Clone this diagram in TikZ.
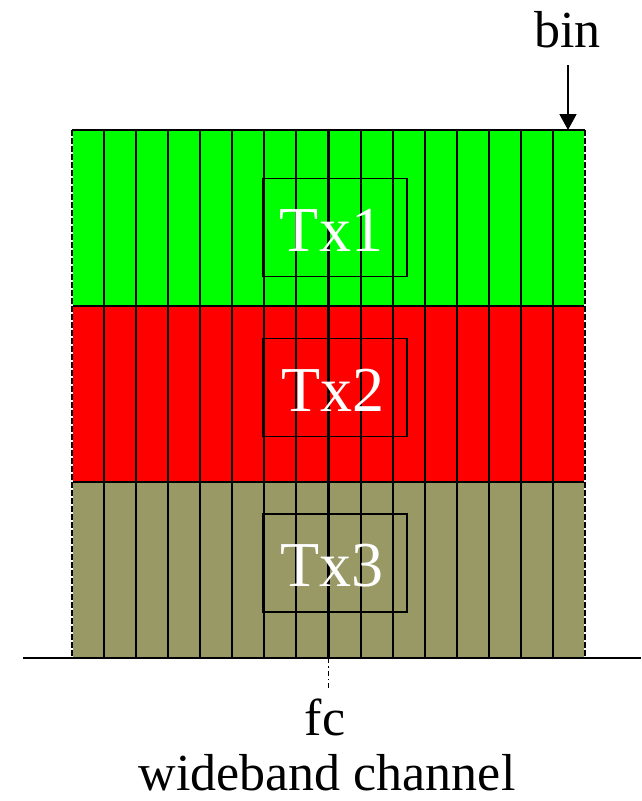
\documentclass[tikz,border=0pt]{standalone}
\usepackage{fontspec}
\setmainfont{Liberation Serif}
\usetikzlibrary{arrows.meta}
\definecolor{bandgreen}{RGB}{0,255,0}
\definecolor{bandred}{RGB}{255,0,0}
\definecolor{bandolive}{RGB}{153,153,102}
\tikzset{
  gridline/.style={line width=2.1pt, black},
  edgeline/.style={line width=1.8pt, black, dash pattern=on 6pt off 2pt},
  txbox/.style={draw=black, line width=1.9pt, minimum width=144pt, minimum height=98pt, inner sep=0pt},
  txlabel/.style={text=white, font=\fontsize{64}{64}\selectfont, anchor=base, inner sep=0pt},
  lbl/.style={font=\fontsize{52}{52}\selectfont, anchor=base, inner sep=0pt},
}
\begin{document}
\begin{tikzpicture}[x=1pt,y=-1pt]
\useasboundingbox (0,0) rectangle (641,801);
% bands
\fill[bandgreen] (72,130) rectangle (585,306);
\fill[bandred] (72,306) rectangle (585,482);
\fill[bandolive] (72,482) rectangle (585,658);
% vertical bin lines
\foreach \i in {1,...,15} {
  \draw[gridline] ({72+\i*32.0625},130) -- ({72+\i*32.0625},658);
}
% horizontal lines
\draw[gridline] (72,130) -- (585,130);
\draw[gridline] (72,306) -- (585,306);
\draw[gridline] (72,482) -- (585,482);
% side dashed edges
\draw[white, line width=1.8pt] (72,130) -- (72,658);
\draw[white, line width=1.8pt] (585,130) -- (585,658);
\draw[edgeline] (72,130) -- (72,658);
\draw[edgeline] (585,130) -- (585,658);
% axis
\coordinate (axl) at (23,658);
\coordinate (axr) at (641,658);
\draw[line width=1.9pt] (axl) -- (axr);
% Tx boxes
\node[txbox] (tx1) at (335,227.5) {};
\node[txbox] (tx2) at (335,387.5) {};
\node[txbox] (tx3) at (335,563) {};
\node[txlabel] (tx1l) at (331.5,251) {Tx1};
\node[txlabel] (tx2l) at (333,411) {Tx2};
\node[txlabel] (tx3l) at (332,586) {Tx3};
% bin arrow
\node[lbl] (bin) at (567.5,47) {bin};
\coordinate (binstart) at (568,65);
\coordinate (binend) at (568,130);
\draw[line width=1.8pt, -{Triangle[width=17pt,length=16pt]}] (binstart) -- (binend);
% fc
\coordinate (fctop) at (328.5,658);
\coordinate (fcbot) at (328.5,688);
\draw[line width=1.4pt, dash pattern=on 5pt off 3pt on 1.5pt off 3pt] (fctop) -- (fcbot);
\node[lbl] (fc) at (325,735) {fc};
\node[lbl] (wb) at (327,790) {wideband channel};
\end{tikzpicture}
\end{document}
